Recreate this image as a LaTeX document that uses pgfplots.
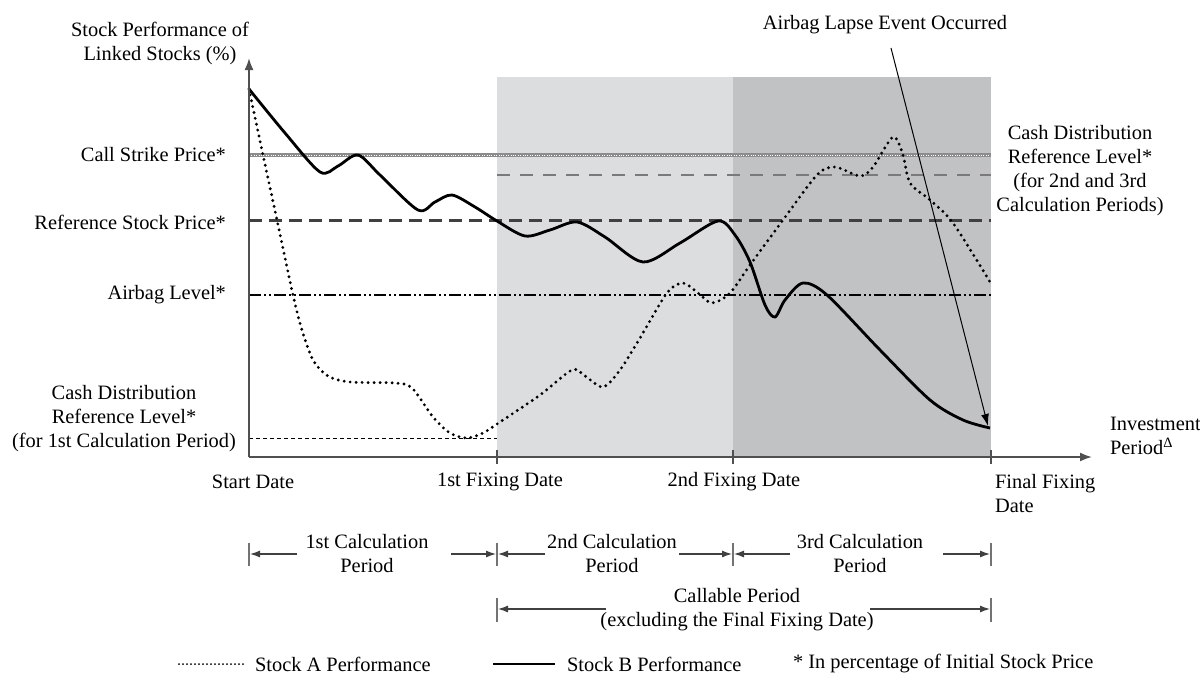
\documentclass[border=0pt]{standalone}
\usepackage{fontspec}
\setmainfont{Liberation Serif}
\usepackage{pgfplots}
\pgfplotsset{compat=1.18}
\usetikzlibrary{arrows.meta}

\definecolor{shadeA}{HTML}{DCDDDF}
\definecolor{shadeB}{HTML}{C1C2C4}
\definecolor{cdgray}{HTML}{7A7A7A}
\definecolor{axgray}{HTML}{505050}

% one picture unit = one pixel of the 1200x680 reference, y grows downwards
\begin{document}
\begin{tikzpicture}[font=\fontsize{10.2}{12}\selectfont,
    brk/.style={black!75, line width=0.6pt, -{Latex[length=5pt,width=3.5pt]}},
    bar/.style={black!55, line width=0.8pt}]
\begin{axis}[
    width=600pt, height=340pt, scale only axis,
    xmin=0, xmax=1200, ymin=0, ymax=680, y dir=reverse,
    axis lines=none, clip=false]

% calculation periods 2 and 3
\addplot[fill=shadeA, draw=none] coordinates {(497,77) (733,77) (733,457) (497,457)} -- cycle;
\addplot[fill=shadeB, draw=none] coordinates {(733,77) (991,77) (991,457) (733,457)} -- cycle;

% levels
\addplot[draw=black!45, line width=2pt]
    coordinates {(249,155) (991,155)};
\addplot[draw=white, line width=0.5pt, dash pattern=on 0.5pt off 0.7pt]
    coordinates {(249,155) (991,155)};
\addplot[cdgray, line width=1pt, dash pattern=on 6.5pt off 5pt]
    coordinates {(497,175) (991,175)};
\addplot[draw=black!75, line width=1.5pt, dash pattern=on 6.5pt off 3.5pt]
    coordinates {(249,220) (991,220)};
\addplot[black, line width=0.8pt, dash pattern=on 6pt off 1.5pt on 1pt off 1.5pt on 1pt off 1.5pt]
    coordinates {(249,295) (991,295)};
\addplot[black, line width=0.4pt, dash pattern=on 2pt off 1.5pt]
    coordinates {(249,438) (497,438)};

% Stock A
\addplot[black, line width=1.6pt, line cap=round, dash pattern=on 0pt off 3pt, smooth, tension=0.5] coordinates {
    (249,89) (263,155) (277,220) (293,295) (302,330) (313,360) (328,376) (350,382)
    (395,383) (412,388) (433,417) (450,433) (467,438) (483,433) (500,422) (540,395)
    (572,370) (585,376) (603,387) (620,370) (640,338) (667,293) (683,283) (698,293)
    (712,303) (730,293) (750,265) (783,220) (817,175) (835,167) (860,176) (873,167)
    (893,137) (903,155) (910,183) (930,200) (953,223) (990,282)
};
% Stock B
\addplot[black, line width=1.4pt, smooth, tension=0.5] coordinates {
    (249,89) (285,133) (320,172) (338,166) (358,155) (380,175) (418,210) (435,202)
    (452,195) (475,207) (497,221) (525,236) (550,230) (577,222) (605,237) (643,262)
    (680,243) (718,221) (735,235) (750,262) (765,305) (775,317) (785,300) (803,283)
    (827,295) (880,350) (930,400) (963,420) (990,428)
};

% axes
\draw[axgray, line width=0.9pt, -{Latex[length=6pt,width=4.5pt]}] (axis cs:249,457) -- (axis cs:249,58);
\draw[axgray, line width=0.9pt, -{Latex[length=6pt,width=4.5pt]}] (axis cs:249,457) -- (axis cs:1092,457);
\draw[axgray, line width=0.6pt] (axis cs:497,450) -- (axis cs:497,464);
\draw[axgray, line width=0.6pt] (axis cs:733,450) -- (axis cs:733,464);
\draw[axgray, line width=0.6pt] (axis cs:991,450) -- (axis cs:991,464);

% labels
\node[align=center] at (axis cs:160,43) {Stock Performance of\\Linked Stocks (\%)};
\node[anchor=east] at (axis cs:233,155) {Call Strike Price*};
\node[anchor=east] at (axis cs:233,222) {Reference Stock Price*};
\node[anchor=east] at (axis cs:233,295) {Airbag Level*};
\node[align=center] at (axis cs:124,419) {Cash Distribution\\Reference Level*\\(for 1st Calculation Period)};
\node at (axis cs:885,25) {Airbag Lapse Event Occurred};
\draw[line width=0.5pt, -{Latex[length=6pt,width=4pt]}] (axis cs:891,48) -- (axis cs:988,426);
\node[align=center] at (axis cs:1080,171) {Cash Distribution\\Reference Level*\\(for 2nd and 3rd\\Calculation Periods)};
\node[anchor=west, align=left] at (axis cs:1103,436) {Investment\\Period\textsuperscript{Δ}};

\node at (axis cs:253,482) {Start Date};
\node at (axis cs:500,482) {1st Fixing Date};
\node at (axis cs:734,482) {2nd Fixing Date};
\node[anchor=west, align=left] at (axis cs:988,494) {Final Fixing\\Date};

% calculation periods
\draw[bar] (axis cs:249,543) -- (axis cs:249,566);
\draw[bar] (axis cs:497,543) -- (axis cs:497,566);
\draw[bar] (axis cs:733,543) -- (axis cs:733,566);
\draw[bar] (axis cs:991,543) -- (axis cs:991,566);
\node[align=center] at (axis cs:367,554) {1st Calculation\\Period};
\draw[brk] (axis cs:297,554) -- (axis cs:250,554);
\draw[brk] (axis cs:451,554) -- (axis cs:496,554);
\node[align=center] at (axis cs:612,554) {2nd Calculation\\Period};
\draw[brk] (axis cs:545,554) -- (axis cs:498,554);
\draw[brk] (axis cs:679,554) -- (axis cs:732,554);
\node[align=center] at (axis cs:860,554) {3rd Calculation\\Period};
\draw[brk] (axis cs:790,554) -- (axis cs:734,554);
\draw[brk] (axis cs:943,554) -- (axis cs:990,554);

\draw[bar] (axis cs:497,598) -- (axis cs:497,622);
\draw[bar] (axis cs:991,598) -- (axis cs:991,622);
\node[align=center] at (axis cs:737,610) {Callable Period\\(excluding the Final Fixing Date)};
\draw[brk] (axis cs:606,609) -- (axis cs:498,609);
\draw[brk] (axis cs:870,609) -- (axis cs:990,609);

% legend
\draw[black, line width=1pt, line cap=round, dash pattern=on 0pt off 2pt] (axis cs:179,664) -- (axis cs:243,664);
\node[anchor=west] at (axis cs:248,664) {Stock A Performance};
\draw[black, line width=1.4pt] (axis cs:493,664) -- (axis cs:555,664);
\node[anchor=west] at (axis cs:560,664) {Stock B Performance};
\node[anchor=west] at (axis cs:786,664) {* In percentage of Initial Stock Price};
\end{axis}
\pgfresetboundingbox
\path (current axis.south west) rectangle (current axis.north east);
\end{tikzpicture}
\end{document}
